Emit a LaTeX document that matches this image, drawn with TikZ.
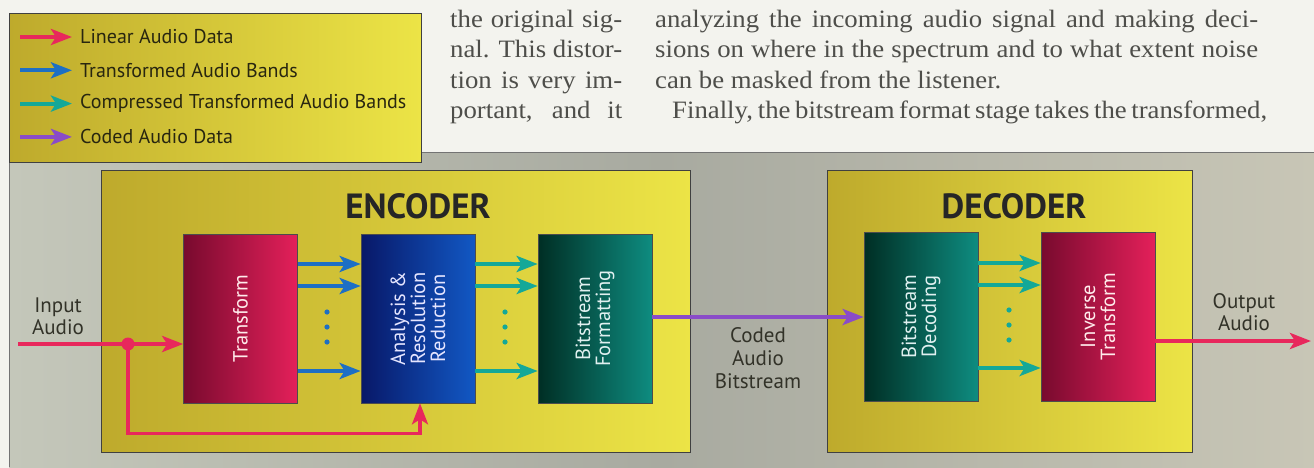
\documentclass[tikz,border=0pt]{standalone}
\usepackage{fontspec}
\setmainfont{Liberation Serif}
\setsansfont{PT Sans}
\newfontfamily\pagefont[FakeStretch=1.07]{Liberation Serif}
\usetikzlibrary{arrows.meta,calc}

\definecolor{audiored}{RGB}{232, 40, 92}
\definecolor{audioblue}{RGB}{29, 111, 196}
\definecolor{audioteal}{RGB}{20, 168, 152}
\definecolor{audiopurple}{RGB}{138, 76, 200}
\definecolor{audioink}{RGB}{78, 78, 74}
\definecolor{audiopaper}{RGB}{243, 243, 238}
\definecolor{audiolabel}{RGB}{50, 50, 40}
\definecolor{keyink}{RGB}{40, 38, 16}
\definecolor{panelleft}{RGB}{196, 199, 186}
\definecolor{panelmid}{RGB}{168, 170, 160}
\definecolor{panelright}{RGB}{200, 198, 182}
\definecolor{mustardleft}{RGB}{190, 170, 44}
\definecolor{mustardright}{RGB}{236, 228, 70}
\definecolor{crimsondark}{RGB}{120, 10, 46}
\definecolor{crimsonlight}{RGB}{228, 32, 90}
\definecolor{navydark}{RGB}{8, 24, 104}
\definecolor{navylight}{RGB}{18, 88, 196}
\definecolor{tealdark}{RGB}{0, 46, 36}
\definecolor{teallight}{RGB}{14, 140, 128}

\begin{document}
\begin{tikzpicture}[x=1pt, y=-1pt, font=\sffamily,
  flow/.style={line width=4pt, -{Stealth[length=21pt, width=16pt, inset=5pt]}},
  unit/.style={draw=black!75, line width=0.8pt, inner sep=0pt, anchor=north west,
    left color=mustardleft, right color=mustardright},
  stage/.style={draw=black!70, line width=0.6pt, inner sep=0pt,
    minimum width=114pt, minimum height=169pt},
  stagetext/.style={rotate=90, align=center, font=\sffamily\fontsize{20.5}{20}\selectfont},
  title/.style={font=\sffamily\bfseries\fontsize{35}{35}\selectfont, text=black!85},
  lbl/.style={align=center, text=audiolabel, font=\sffamily\fontsize{21}{22}\selectfont},
  bodyline/.style={anchor=base west, inner sep=0pt, text=audioink,
    font=\pagefont\fontsize{25}{30}\selectfont}
]
\useasboundingbox (0,0) rectangle (1314,468);
\fill[audiopaper] (0,0) rectangle (1314,468);

% running text of the page
\node[bodyline] (ca) at (450,28) {\makebox[172pt][s]{the original sig-}};
\node[bodyline] (cb) at (450,58) {\makebox[172pt][s]{nal. This distor-}};
\node[bodyline] (cc) at (450,89) {\makebox[172pt][s]{tion is very im-}};
\node[bodyline] (cd) at (450,119) {\makebox[172pt][s]{portant, and it}};
\node[bodyline] (da) at (655,28) {\makebox[603pt][s]{analyzing the incoming audio signal and making deci-}};
\node[bodyline] (db) at (655,58) {\makebox[603pt][s]{sions on where in the spectrum and to what extent noise}};
\node[bodyline] (dc) at (655,89) {can be masked from the listener.};
\node[bodyline] (dd) at (672,119) {\makebox[595pt][s]{Finally, the bitstream format stage takes the transformed,}};

% grey panel behind the codec
\shade[left color=panelleft, right color=panelright, middle color=panelmid] (9,152) rectangle (1314,467);
\draw[black!55, line width=0.8pt] (9,467) -- (9,152) -- (1314,152);

% key
\node[unit, minimum width=412pt, minimum height=149pt] (legend) at (9,13) {};
\foreach \col/\txt [count=\i] in {audiored/Linear Audio Data,
    audioblue/Transformed Audio Bands,
    audioteal/Compressed Transformed Audio Bands,
    audiopurple/Coded Audio Data} {
  \coordinate (key\i) at (20,{37+33.3*(\i-1)});
  \draw[flow, \col] (key\i) -- ++(52,0);
  \node[anchor=west, inner sep=0pt, text=keyink, font=\sffamily\fontsize{20}{20}\selectfont]
    (keytext\i) at (80,{37+33.3*(\i-1)}) {\txt};
}

% encoder
\node[unit, minimum width=589pt, minimum height=282pt] (enc) at (101,170) {};
\node[title] (enctitle) at (418,206) {ENCODER};
\node[stage, left color=crimsondark, right color=crimsonlight] (tf) at (240.5,318.5) {};
\node[stagetext, text=red!8] at (tf) {Transform};
\node[stage, left color=navydark, right color=navylight] (ar) at (418,318.5) {};
\node[stagetext, text=blue!10] at (ar) {Analysis \&\\Resolution\\Reduction};
\node[stage, left color=tealdark, right color=teallight] (bf) at (595,318.5) {};
\node[stagetext, text=teal!12] at (bf) {Bitstream\\Formatting};

\foreach \yy in {264,286,371} {
  \draw[flow, audioblue] (tf.east |- 0,\yy) -- (ar.west |- 0,\yy);
  \draw[flow, audioteal] (ar.east |- 0,\yy) -- (bf.west |- 0,\yy);
}
\foreach \yy in {312,327,342} {
  \fill[audioblue] (327,\yy) circle (2.6pt);
  \fill[audioteal] (505,\yy) circle (2.6pt);
}

% input and side chain
\coordinate (in) at (18,344);
\coordinate (tap) at (128,344);
\node[lbl] (inlbl) at (58,316) {Input\\Audio};
\draw[audiored, line width=4.5pt] (in) -- (tap);
\draw[flow, audiored] (tap) -- (tap -| tf.west);
\draw[flow, audiored, line width=3.5pt] (tap) |- ($(ar.south)+(2,30)$) -- ($(ar.south)+(2,0)$);
\fill[audiored] (tap) circle (6.5pt);

% decoder
\node[unit, minimum width=365pt, minimum height=282pt] (dec) at (827,170) {};
\node[title] (dectitle) at (1014,206) {DECODER};
\node[stage, left color=tealdark, right color=teallight] (bd) at (921,316.5) {};
\node[stagetext, text=teal!12] at (bd) {Bitstream\\Decoding};
\node[stage, left color=crimsondark, right color=crimsonlight] (it) at (1098,316.5) {};
\node[stagetext, text=red!8] at (it) {Inverse\\Transform};

\foreach \yy in {263,285,368}
  \draw[flow, audioteal] (bd.east |- 0,\yy) -- (it.west |- 0,\yy);
\foreach \yy in {310,325,340}
  \fill[audioteal] (1009,\yy) circle (2.6pt);

% coded stream between the two
\draw[flow, audiopurple] (bf.east |- 0,317) -- (bd.west |- 0,317);
\node[lbl, font=\sffamily\fontsize{21}{23}\selectfont] (codedlbl) at (758,358) {Coded\\Audio\\Bitstream};

% output
\coordinate (out) at (1311,341);
\draw[flow, audiored] (it.east |- out) -- (out);
\node[lbl] (outlbl) at (1244,312) {Output\\Audio};
\end{tikzpicture}
\end{document}
